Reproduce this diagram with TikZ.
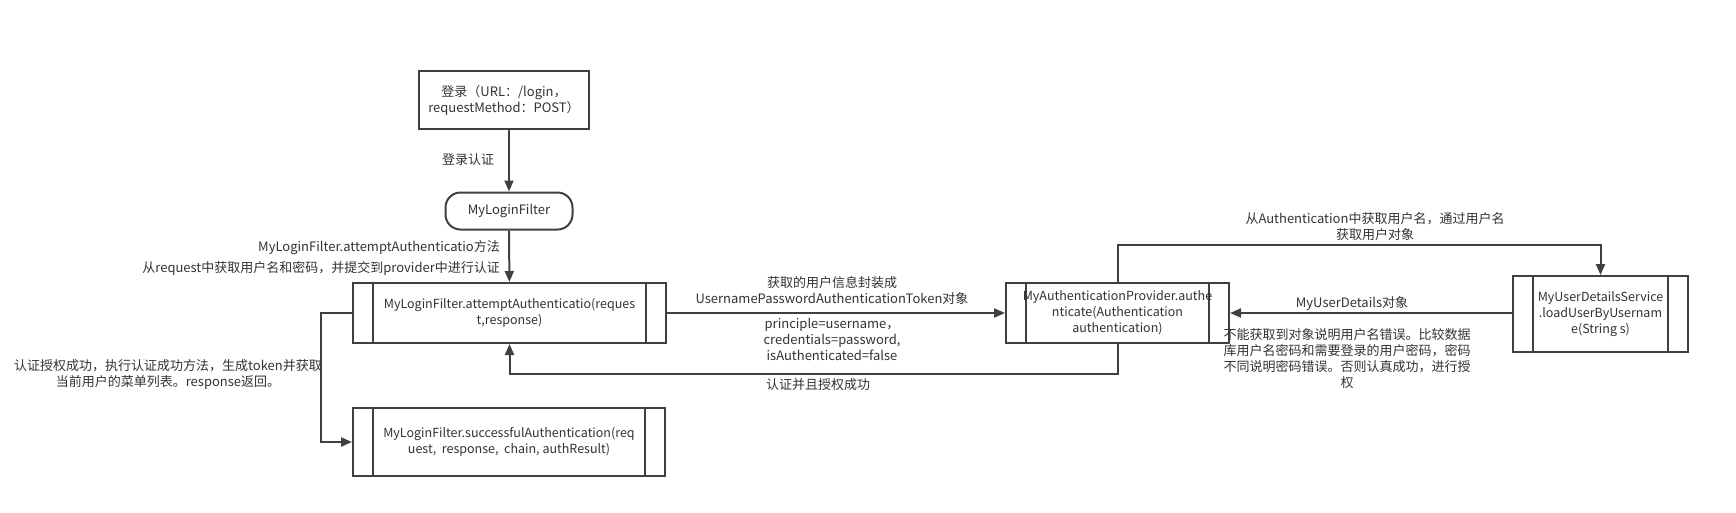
\documentclass[tikz,border=0pt]{standalone}
\usepackage{fontspec}
\setmainfont{Noto Sans CJK SC}
\usetikzlibrary{arrows.meta}
\definecolor{linegray}{HTML}{404040}
\definecolor{txtgray}{HTML}{333333}

\tikzset{
  box/.style={draw=linegray, line width=2pt, fill=white, align=center, inner sep=0pt,
    text=txtgray, font=\fontsize{12.5}{16}\selectfont},
  procbox/.style={box, path picture={
      \draw[linegray, line width=2pt] ([xshift=20pt]path picture bounding box.north west) -- ([xshift=20pt]path picture bounding box.south west);
      \draw[linegray, line width=2pt] ([xshift=-20pt]path picture bounding box.north east) -- ([xshift=-20pt]path picture bounding box.south east);}},
  flow/.style={draw=linegray, line width=2pt, -{Triangle[length=11pt,width=9pt]}},
  note/.style={text=txtgray, align=center, inner sep=0pt, font=\fontsize{13}{16}\selectfont},
}

\begin{document}
\begin{tikzpicture}[x=1pt, y=-1pt]
  \fill[white] (0,0) rectangle (1736,512);
  \useasboundingbox (0,0) rectangle (1736,512);

  % boxes
  \node[box, font=\fontsize{13}{16}\selectfont, minimum width=170pt, minimum height=58pt] (login) at (504,100) {登录（URL：/login，\\requestMethod：POST）};
  \node[box, font=\fontsize{13}{16}\selectfont, rounded corners=15pt, minimum width=127pt, minimum height=37pt] (filter) at (509,211) {MyLoginFilter};
  \node[procbox, minimum width=313pt, minimum height=60pt] (attempt) at (509.5,313) {MyLoginFilter.attemptAuthenticatio(reques\\t,response)};
  \node[procbox, minimum width=312pt, minimum height=68pt] (success) at (509,442) {MyLoginFilter.successfulAuthentication(req\\uest,\ \ response,\ \ chain, authResult)};
  \node[procbox, minimum width=223pt, minimum height=60pt] (provider) at (1117.5,313) {MyAuthenticationProvider.authe\\nticate(Authentication\\authentication)};
  \node[procbox, minimum width=175pt, minimum height=76pt] (uds) at (1600.5,314) {MyUserDetailsService\\.loadUserByUsernam\\e(String s)};

  % connectors
  \draw[flow] (login.south -| filter.north) -- (filter.north);
  \draw[flow] (filter) -- (attempt);
  \draw[flow] (attempt.west) -- ++(-31,0) |- (success.west);
  \draw[flow] (attempt) -- (provider);
  \draw[flow] (provider.north) -- ++(0,-37) -| (uds.north);
  \draw[flow] (uds.west |- provider.east) -- (provider.east);
  \draw[flow] (provider.south) -- ++(0,30) -| (attempt.south);

  % labels
  \node[note] (lblauth) at (468,160) {登录认证};
  \node[note, align=right, anchor=east] (lblattempt) at (500,257.5) {MyLoginFilter.attemptAuthenticatio方法\\[5pt]从request中获取用户名和密码，并提交到provider中进行认证};
  \node[note] (lblsuccess) at (168,374.5) {认证授权成功，执行认证成功方法，生成token并获取\\当前用户的菜单列表。response返回。};
  \node[note] (lbltoken) at (832,290.5) {获取的用户信息封装成\\UsernamePasswordAuthenticationToken对象};
  \node[note] (lblfields) at (832,339) {principle=username，\\credentials=password,\\isAuthenticated=false};
  \node[note] (lblok) at (818,385) {认证并且授权成功};
  \node[note] (lblload) at (1375,227) {从Authentication中获取用户名，通过用户名\\获取用户对象};
  \node[note] (lbldetails) at (1352,304) {MyUserDetails对象};
  \node[note] (lblcheck) at (1347,358.5) {不能获取到对象说明用户名错误。比较数据\\库用户名密码和需要登录的用户密码，密码\\不同说明密码错误。否则认真成功，进行授\\权};
\end{tikzpicture}
\end{document}
